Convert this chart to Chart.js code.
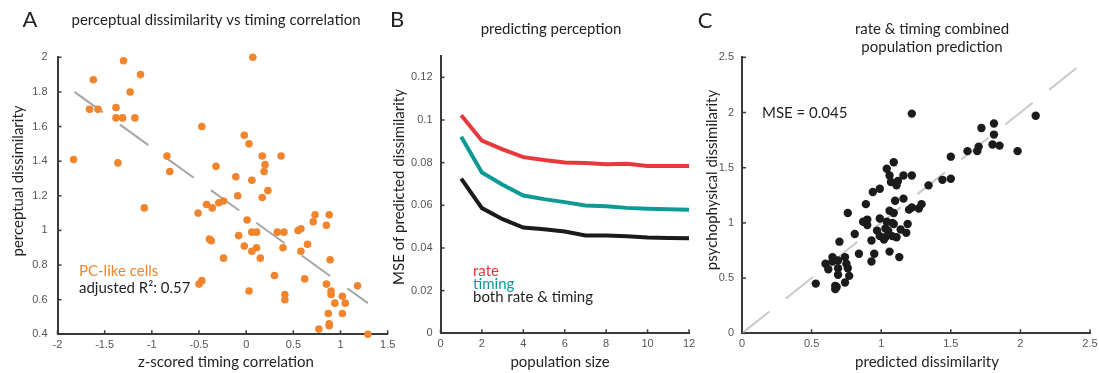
<!DOCTYPE html>
<html>
<head>
<meta charset="utf-8">
<script src="https://cdn.jsdelivr.net/npm/chart.js@4.4.0/dist/chart.umd.min.js"></script>
<style>
  body { margin: 0; background: #fff; }
  #wrap { position: relative; width: 1099px; height: 373px; }
  canvas { position: absolute; left: 0; top: 0; }
</style>
</head>
<body>
<div id="wrap">
  <canvas id="cA" width="1099" height="373"></canvas>
  <canvas id="cB" width="1099" height="373"></canvas>
  <canvas id="cC" width="1099" height="373"></canvas>
</div>
<script>
// Panel A : z-scored timing correlation vs perceptual dissimilarity
const timingCorr = [-1.83, -1.66, -1.62, -1.57, -1.30, -1.38, -1.38, -1.31, -1.36, -1.23, -1.18, -1.12, -1.08,
  -0.84, -0.81, -0.47, -0.51, -0.42, -0.36, -0.32, -0.29, -0.24, -0.39, -0.37, -0.24, -0.50, -0.47,
  0.07, -0.02, 0.03, -0.11, -0.09, 0.06, 0.01, -0.08, -0.02, 0.06, 0.11, 0.06, 0.11, 0.15, 0.03,
  0.17, 0.20, 0.19, 0.23, 0.17, 0.37, 0.33, 0.40, 0.39, 0.30, 0.41, 0.41, 0.55, 0.58, 0.58, 0.65,
  0.62, 0.73, 0.71, 0.88, 0.85, 0.89, 0.85, 0.90, 0.90, 0.94, 0.87, 0.88, 0.88, 0.77, 1.02, 1.05,
  1.02, 1.18, 1.29];
const percDissim = [1.41, 1.70, 1.87, 1.70, 1.98, 1.71, 1.65, 1.65, 1.39, 1.80, 1.65, 1.90, 1.13,
  1.43, 1.34, 1.60, 1.10, 1.15, 1.13, 1.37, 1.16, 1.17, 0.95, 0.94, 0.84, 0.69, 0.71,
  2.00, 1.55, 1.50, 1.31, 1.20, 1.29, 1.06, 0.97, 0.91, 0.99, 0.99, 0.88, 0.90, 0.84, 0.65,
  1.43, 1.38, 1.34, 1.23, 1.19, 1.43, 0.99, 0.99, 0.90, 0.74, 0.63, 0.60, 1.00, 1.01, 0.88, 0.92,
  0.72, 1.09, 1.05, 1.09, 1.03, 0.83, 0.69, 0.65, 0.63, 0.58, 0.52, 0.46, 0.45, 0.43, 0.62, 0.58,
  0.52, 0.68, 0.40];
const fitX = [-1.82, 1.29];
const fitY = [1.80, 0.58];

// Panel B : MSE vs population size
const popSize = [1, 2, 3, 4, 5, 6, 7, 8, 9, 10, 11, 12];
const mseRate = [0.1022, 0.0903, 0.0862, 0.0826, 0.0812, 0.0801, 0.0798, 0.0793, 0.0795, 0.0784, 0.0784, 0.0784];
const mseTiming = [0.0922, 0.0754, 0.0696, 0.0646, 0.0629, 0.0615, 0.0599, 0.0596, 0.0588, 0.0584, 0.0582, 0.0579];
const mseBoth = [0.0725, 0.0587, 0.0535, 0.0496, 0.0488, 0.0477, 0.0459, 0.0459, 0.0455, 0.0449, 0.0447, 0.0446];

// Panel C : predicted vs psychophysical dissimilarity
const predDissim = [0.53, 0.60, 0.62, 0.65, 0.65, 0.70, 0.69, 0.69, 0.69, 0.67, 0.67, 0.68, 0.74, 0.75, 0.76, 0.77,
  0.74, 0.76, 0.81, 0.84, 0.89, 0.87, 0.90, 0.90, 0.94, 0.99, 0.93, 0.95, 0.93, 0.99, 0.97, 0.99, 1.02,
  1.03, 1.04, 1.06, 1.09, 1.07, 1.12, 1.11, 1.16, 1.22, 1.06, 1.09, 1.08, 1.09, 1.04, 1.03, 1.05, 1.08,
  1.11, 1.06, 1.13, 1.10, 1.16, 1.14, 1.18, 1.19, 1.20, 1.22, 1.22, 1.27, 1.29, 1.34, 1.44, 1.50, 1.50,
  1.62, 1.69, 1.70, 1.72, 1.81, 1.81, 1.80, 1.85, 1.98, 2.11];
const psychDissim = [0.45, 0.63, 0.58, 0.69, 0.65, 0.83, 0.66, 0.59, 0.53, 0.43, 0.40, 0.42, 0.69, 0.63, 0.59, 0.52,
  0.46, 1.09, 0.90, 0.72, 1.17, 1.01, 1.03, 0.98, 1.28, 1.31, 0.84, 0.72, 0.65, 1.04, 0.93, 0.88, 0.85,
  0.87, 1.49, 1.43, 1.55, 1.37, 1.38, 1.34, 1.43, 1.43, 1.11, 1.09, 1.00, 0.99, 1.01, 0.95, 0.93, 0.88,
  0.87, 0.74, 0.69, 1.20, 1.22, 0.94, 0.91, 0.99, 1.12, 1.14, 1.99, 1.13, 1.17, 1.34, 1.39, 1.40, 1.60,
  1.65, 1.65, 1.69, 1.86, 1.90, 1.80, 1.71, 1.70, 1.65, 1.97];
const unityX = [0, 2.43];
const unityY = [0, 2.43];

const pts = (xs, ys) => xs.map((x, i) => ({ x: x, y: ys[i] }));
const LBL = "Lato, 'Open Sans', sans-serif";

// ticks pointing into the plot
const inwardTicks = {
  id: 'inwardTicks',
  afterDraw(chart) {
    const ctx = chart.ctx, a = chart.chartArea;
    ctx.save();
    ctx.strokeStyle = '#3a3a3a';
    ctx.lineWidth = 1.5;
    const xs = chart.scales.x, ys = chart.scales.y;
    xs.ticks.forEach(t => {
      const p = xs.getPixelForValue(t.value);
      ctx.beginPath(); ctx.moveTo(p, a.bottom); ctx.lineTo(p, a.bottom - 4); ctx.stroke();
    });
    ys.ticks.forEach(t => {
      const p = ys.getPixelForValue(t.value);
      ctx.beginPath(); ctx.moveTo(a.left, p); ctx.lineTo(a.left + 4, p); ctx.stroke();
    });
    ctx.restore();
  }
};

// titles, axis labels and notes
const panelText = {
  id: 'panelText',
  afterDraw(chart, args, opts) {
    const ctx = chart.ctx;
    (opts.items || []).forEach(it => {
      ctx.save();
      ctx.font = it.font || ('15px ' + LBL);
      ctx.fillStyle = it.color || '#231f20';
      ctx.textAlign = it.align || 'center';
      ctx.textBaseline = 'middle';
      ctx.translate(it.x, it.y);
      if (it.rot) ctx.rotate(-Math.PI / 2);
      ctx.fillText(it.t, 0, 0);
      ctx.restore();
    });
  }
};

function axis(min, max, step, pad, isY, size) {
  return {
    type: 'linear', min: min, max: max,
    ticks: {
      stepSize: step, padding: pad, autoSkip: false, maxRotation: 0,
      color: '#555', font: { family: 'Liberation Sans', size: 11 },
      callback: v => String(+v.toFixed(3))
    },
    grid: { display: false, drawTicks: false },
    border: { display: true, color: '#3a3a3a', width: 2 },
    afterBuildTicks: s => {
      s.ticks = s.ticks.filter(t => Math.abs(t.value / step - Math.round(t.value / step)) < 1e-6);
    },
    afterFit: s => {
      if (isY) { s.width = size; s.paddingTop = 0; s.paddingBottom = 0; }
      else { s.height = size; s.paddingLeft = 0; s.paddingRight = 0; }
    }
  };
}

function baseOptions(area, xAx, yAx, items) {
  return {
    responsive: false, animation: false, devicePixelRatio: 1,
    layout: { padding: { left: area.l - 40, right: 1099 - area.r, top: area.t, bottom: 373 - area.b - 30 } },
    scales: { x: xAx, y: yAx },
    plugins: { legend: { display: false }, tooltip: { enabled: false }, panelText: { items: items } }
  };
}

// Panel A
new Chart(document.getElementById('cA'), {
  type: 'scatter',
  data: {
    datasets: [
      { data: pts(timingCorr, percDissim), backgroundColor: '#f0852d', borderWidth: 0, pointRadius: 3.8,
        clip: false, order: 1 },
      { data: pts(fitX, fitY), showLine: true, borderColor: '#a6a6a6', borderWidth: 2, borderDash: [35, 21],
        pointRadius: 0, order: 2 }
    ]
  },
  options: baseOptions({ l: 57.5, r: 387.7, t: 57.3, b: 334.3 },
    axis(-2, 1.5, 0.5, 4, false, 30), axis(0.4, 2, 0.2, 10, true, 40), [
      { t: 'A', x: 30, y: 20, font: '22px ' + LBL },
      { t: 'perceptual dissimilarity vs timing correlation', x: 216, y: 20 },
      { t: 'perceptual dissimilarity', x: 18, y: 181, rot: true },
      { t: 'z-scored timing correlation', x: 226, y: 362 },
      { t: 'PC-like cells', x: 79, y: 271, align: 'left', color: '#f0852d' },
      { t: 'adjusted R\u00b2: 0.57', x: 79, y: 288, align: 'left' }
    ]),
  plugins: [inwardTicks, panelText]
});

// Panel B
new Chart(document.getElementById('cB'), {
  type: 'scatter',
  data: {
    datasets: [
      { data: pts(popSize, mseRate), showLine: true, borderColor: '#e8383d', borderWidth: 4, pointRadius: 0 },
      { data: pts(popSize, mseTiming), showLine: true, borderColor: '#0c9a95', borderWidth: 4, pointRadius: 0 },
      { data: pts(popSize, mseBoth), showLine: true, borderColor: '#1c1a1b', borderWidth: 4, pointRadius: 0 }
    ]
  },
  options: baseOptions({ l: 440.5, r: 689, t: 56, b: 333.3 },
    axis(0, 12, 2, 4, false, 30), axis(0, 0.13, 0.02, 8, true, 40), [
      { t: 'B', x: 397, y: 20, font: '22px ' + LBL },
      { t: 'predicting perception', x: 551, y: 29 },
      { t: 'MSE of predicted dissimilarity', x: 399, y: 187, rot: true },
      { t: 'population size', x: 560, y: 362 },
      { t: 'rate', x: 473, y: 271, align: 'left', color: '#e8383d' },
      { t: 'timing', x: 473, y: 284, align: 'left', color: '#0c9a95' },
      { t: 'both rate & timing', x: 473, y: 297, align: 'left' }
    ]),
  plugins: [inwardTicks, panelText]
});

// Panel C
new Chart(document.getElementById('cC'), {
  type: 'scatter',
  data: {
    datasets: [
      { data: pts(predDissim, psychDissim), backgroundColor: '#1c1a1b', borderWidth: 0, pointRadius: 4.2,
        clip: false, order: 1 },
      { data: pts(unityX, unityY), showLine: true, borderColor: '#c8c8c8', borderWidth: 2, borderDash: [35, 21],
        pointRadius: 0, order: 2 }
    ]
  },
  options: baseOptions({ l: 742, r: 1090, t: 57.3, b: 333.3 },
    axis(0, 2.5, 0.5, 4, false, 30), axis(0, 2.5, 0.5, 8, true, 40), [
      { t: 'C', x: 705, y: 21, font: '22px ' + LBL },
      { t: 'rate & timing combined', x: 932, y: 29 },
      { t: 'population prediction', x: 932, y: 47 },
      { t: 'psychophysical dissimilarity', x: 712, y: 180, rot: true },
      { t: 'predicted dissimilarity', x: 927, y: 362 },
      { t: 'MSE = 0.045', x: 762, y: 113, align: 'left' }
    ]),
  plugins: [inwardTicks, panelText]
});
</script>
</body>
</html>
